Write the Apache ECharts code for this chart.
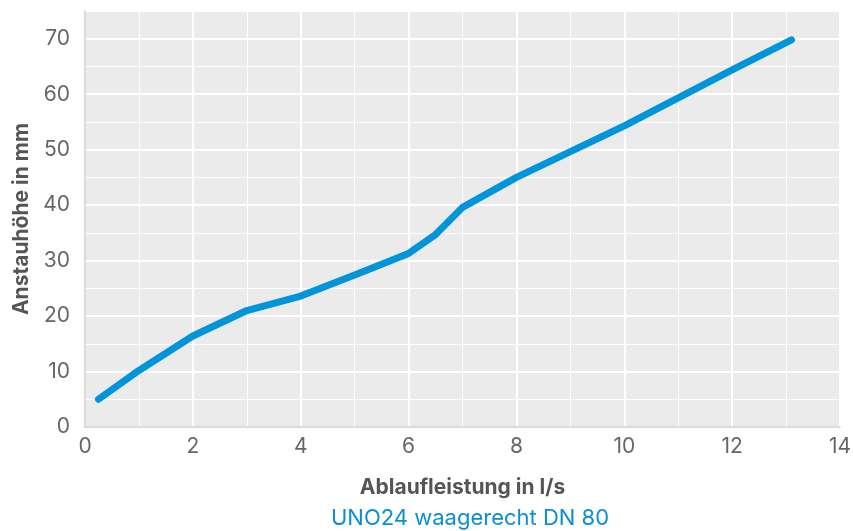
<!DOCTYPE html>
<html><head><meta charset="utf-8">
<script src="https://cdn.jsdelivr.net/npm/echarts@6/dist/echarts.min.js"></script>
<style>html,body{margin:0;padding:0;background:#fff}#c{width:853px;height:531px}</style>
</head><body><div id="c"></div>
<script>
const flowX = [0.25, 1, 2, 3, 4, 5, 6, 6.5, 7, 8, 10, 12, 13.1];
const heightY = [5, 10.2, 16.4, 21, 23.6, 27.4, 31.3, 34.7, 39.6, 45, 54.3, 64.4, 69.8];
const seriesName = 'UNO24 waagerecht DN 80';
const xTitle = 'Ablaufleistung in l/s';
const yTitle = 'Anstauhöhe in mm';

const font = 'Inter, "Open Sans", sans-serif';
const chart = echarts.init(document.getElementById('c'));
chart.setOption({
  animation: false,
  title: {
    text: seriesName, top: 506, left: 470, textAlign: 'center',
    padding: 0,
    textStyle: { color: '#0a8fd6', fontSize: 22, fontWeight: 'normal', fontFamily: font, lineHeight: 24 }
  },
  grid: { left: 85, right: 13, top: 11, bottom: 104, backgroundColor: '#ebebeb', show: true, borderWidth: 0,
    containLabel: false, outerBoundsMode: 'none' },
  xAxis: {
    type: 'value', min: 0, max: 14, interval: 2,
    name: xTitle, nameLocation: 'middle', nameGap: 50,
    nameTextStyle: { color: '#555', fontSize: 21, fontWeight: 'bold', fontFamily: font },
    axisLine: { show: true, lineStyle: { color: '#cfcfcf', width: 1.5 } },
    axisTick: { show: false },
    axisLabel: { color: '#666', fontSize: 21, fontFamily: font, margin: 9 },
    splitLine: { show: true, lineStyle: { color: '#fff', width: 2 } },
    minorTick: { show: false, splitNumber: 2 },
    minorSplitLine: { show: true, lineStyle: { color: '#fff', width: 1 } }
  },
  yAxis: {
    type: 'value', min: 0, max: 75, interval: 10,
    name: yTitle, nameLocation: 'middle', nameGap: 53, nameRotate: 90,
    nameTextStyle: { color: '#555', fontSize: 21, fontWeight: 'bold', fontFamily: font },
    axisLine: { show: true, lineStyle: { color: '#cfcfcf', width: 1.5 } },
    axisTick: { show: false },
    axisLabel: { color: '#666', fontSize: 21, fontFamily: font, margin: 15,
      formatter: v => (v % 10 === 0 ? String(v) : '') },
    splitLine: { show: true, lineStyle: { color: '#fff', width: 2 } },
    minorTick: { show: false, splitNumber: 2 },
    minorSplitLine: { show: true, lineStyle: { color: '#fff', width: 1 } }
  },
  series: [{
    type: 'line', name: seriesName,
    data: flowX.map((x, i) => [x, heightY[i]]),
    showSymbol: false, symbol: 'none',
    lineStyle: { color: '#0095da', width: 7, cap: 'round', join: 'round' }
  }]
});
</script></body></html>
